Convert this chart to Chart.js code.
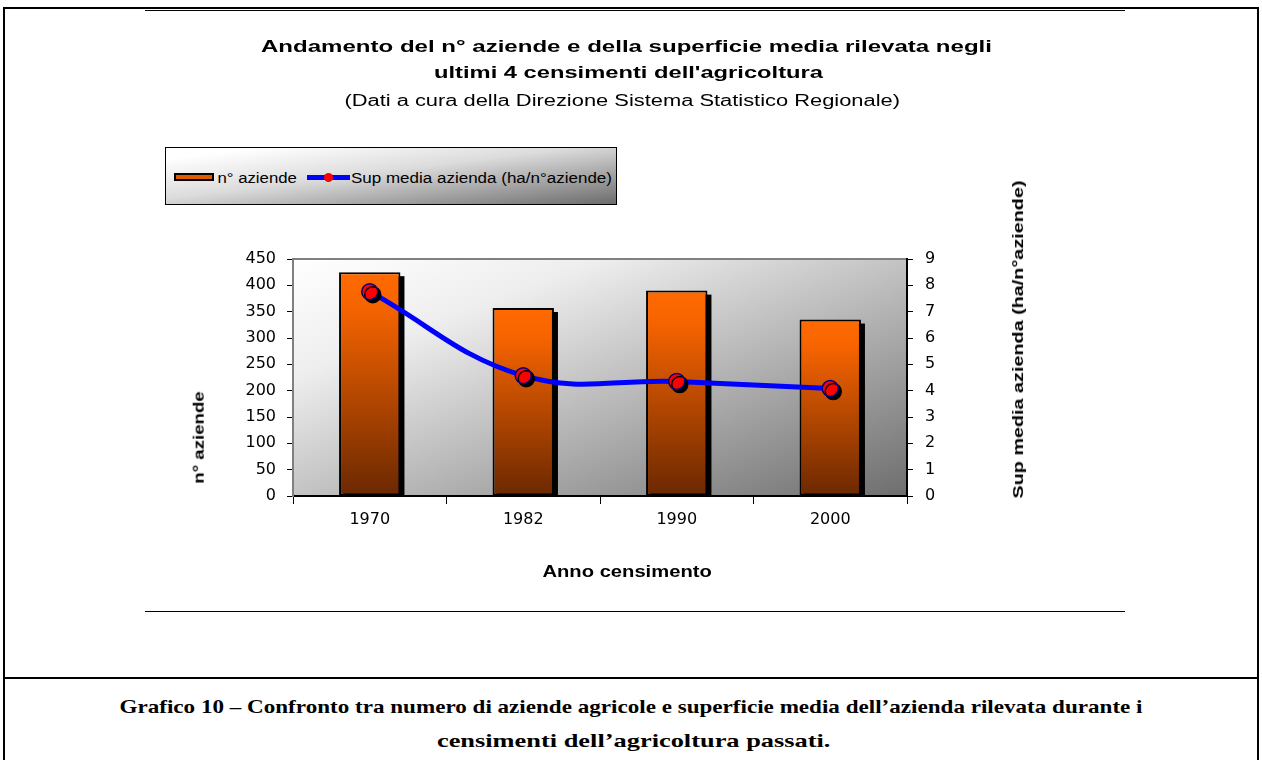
<!DOCTYPE html>
<html>
<head>
<meta charset="utf-8">
<script src="https://cdn.jsdelivr.net/npm/chart.js@4.4.1/dist/chart.umd.min.js"></script>
<style>
  body { margin: 0; width: 1262px; height: 760px; background: #fff; position: relative; overflow: hidden;
         font-family: "Liberation Sans", Arial, sans-serif; color: #000; }
  .abs { position: absolute; }
  .txt { position: absolute; white-space: nowrap; line-height: 1; z-index: 2; transform-origin: center center; }
  #frame { left: 3px; top: 7px; width: 1256px; height: 800px; border: 2px solid #000; border-bottom: none; box-sizing: border-box; }
  #divider { left: 3px; top: 677px; width: 1256px; height: 2px; background: #000; }
  #lineTop { left: 145px; top: 10px; width: 980px; height: 1px; background: #000; }
  #lineBottom { left: 145px; top: 611px; width: 980px; height: 1px; background: #000; }
  #chartWrap { left: 0; top: 0; width: 1262px; height: 680px; z-index: 1; }
  .title { font-size: 17px; font-weight: bold; }
  .sub { font-size: 16px; }
  .axisTitle { font-size: 15px; font-weight: bold; }
  .legendTxt { font-size: 14px; }
  .caption { font-family: "Liberation Serif", "DejaVu Serif", serif; font-weight: bold; font-size: 19px; }
  #legendBox { left: 165px; top: 147px; width: 452px; height: 58px; box-sizing: border-box; border: 1.5px solid #000;
               background: linear-gradient(to bottom right, #ffffff 10%, #dcdcdc 45%, #6c6c6c 100%); z-index: 2; }
  #swBar { left: 174px; top: 173px; width: 40px; height: 8px; box-sizing: border-box; border: 2px solid #000;
           background: #e05a00; z-index: 3; }
  #swLine { left: 307px; top: 175px; width: 43px; height: 5px; background: #0000ff; z-index: 3; }
  #swDot { left: 324px; top: 173px; width: 9px; height: 9px; border-radius: 50%; background: #ff0000; z-index: 4; }
</style>
</head>
<body>
<div id="frame" class="abs"></div>
<div id="divider" class="abs"></div>
<div id="lineTop" class="abs"></div>
<div id="lineBottom" class="abs"></div>

<div id="t1" class="txt title">Andamento del n° aziende e della superficie media rilevata negli</div>
<div id="t2" class="txt title">ultimi 4 censimenti dell'agricoltura</div>
<div id="t3" class="txt sub">(Dati a cura della Direzione Sistema Statistico Regionale)</div>

<div id="legendBox" class="abs"></div>
<div id="swBar" class="abs"></div>
<div id="swLine" class="abs"></div>
<div id="swDot" class="abs"></div>
<div id="lg1" class="txt legendTxt" style="z-index:3">n° aziende</div>
<div id="lg2" class="txt legendTxt" style="z-index:3">Sup media azienda (ha/n°aziende)</div>

<div id="yTitle" class="txt axisTitle">n° aziende</div>
<div id="y1Title" class="txt axisTitle">Sup media azienda (ha/n°aziende)</div>
<div id="xTitle" class="txt axisTitle" style="font-size:16px">Anno censimento</div>

<div id="c1" class="txt caption">Grafico 10 – Confronto tra numero di aziende agricole e superficie media dell’azienda rilevata durante i</div>
<div id="c2" class="txt caption">censimenti dell’agricoltura passati.</div>

<div id="chartWrap" class="abs"><canvas id="chart" width="1262" height="680"></canvas></div>

<script>
// --- data ---
const anni = ['1970', '1982', '1990', '2000'];
const numAziende = [425, 357, 390, 335];
const supMedia = [7.76, 4.57, 4.35, 4.08];
const leftMax = 450, leftStep = 50;
const rightMax = 9, rightStep = 1;

// place a text element by its centre and stretch it to the width seen in the picture
function place(id, cx, cy, w, rot) {
    const el = document.getElementById(id);
    const ow = el.offsetWidth, oh = el.offsetHeight;
    el.style.left = (cx - ow / 2) + 'px';
    el.style.top = (cy - oh / 2) + 'px';
    el.style.transform = (rot ? 'rotate(' + rot + 'deg) ' : '') + 'scaleX(' + (w / ow) + ')';
}

place('t1', 626, 46, 731);
place('t2', 628, 72, 389);
place('t3', 622, 101, 555);
place('lg1', 257, 178, 79);
place('lg2', 481, 178, 261);
place('yTitle', 198, 437, 92, -90);
place('y1Title', 1017, 339, 318, -90);
place('xTitle', 627, 572, 169);
place('c1', 631, 706, 1023);
place('c2', 633, 740, 393);

const tickFont = { family: 'DejaVu Sans', size: 16 };

// grey gradient behind the plot + grey top edge
const plotBackground = {
    id: 'plotBackground',
    beforeDraw(chart) {
        const { ctx, chartArea: a } = chart;
        const w = a.right - a.left, h = a.bottom - a.top;
        const s = 2 * w * h / (w * w + h * h);
        const g = ctx.createLinearGradient(a.left, a.top, a.left + s * h, a.top + s * w);
        g.addColorStop(0, '#ffffff');
        g.addColorStop(0.25, '#eeeeee');
        g.addColorStop(1, '#6e6e6e');
        ctx.save();
        ctx.fillStyle = g;
        ctx.fillRect(a.left, a.top, w, h);
        ctx.strokeStyle = '#808080';
        ctx.lineWidth = 2;
        ctx.beginPath();
        ctx.moveTo(a.left, a.top);
        ctx.lineTo(a.right, a.top);
        ctx.stroke();
        ctx.restore();
    }
};

// hard black drop shadows: bars get a rectangle behind them, markers use canvas shadow
const dropShadow = {
    id: 'dropShadow',
    beforeDatasetDraw(chart, args) {
        const ds = chart.data.datasets[args.index];
        if (!ds.shadow) return;
        const ctx = chart.ctx;
        ctx.save();
        if (args.meta.type === 'bar') {
            const off = ds.shadow;
            ctx.fillStyle = '#000';
            args.meta.data.forEach(bar => {
                const { x, y, base, width } = bar.getProps(['x', 'y', 'base', 'width'], true);
                ctx.fillRect(x - width / 2 + off, y + off, width, base - y - off);
            });
        } else {
            ctx.shadowColor = '#000';
            ctx.shadowBlur = 0;
            ctx.shadowOffsetX = ds.shadow;
            ctx.shadowOffsetY = ds.shadow;
        }
    },
    afterDatasetDraw(chart, args) {
        const ds = chart.data.datasets[args.index];
        if (ds.shadow) chart.ctx.restore();
    }
};

function barGradient(c) {
    const chart = c.chart;
    if (!chart.chartArea || c.type !== 'data') return '#ff6600';
    const y = chart.scales.y;
    const top = y.getPixelForValue(c.raw);
    const base = y.getPixelForValue(0);
    const g = chart.ctx.createLinearGradient(0, top, 0, base);
    g.addColorStop(0, '#ff6a00');
    g.addColorStop(0.15, '#f76400');
    g.addColorStop(1, '#6b2800');
    return g;
}

new Chart(document.getElementById('chart'), {
    data: {
        labels: anni,
        datasets: [
            {
                type: 'line',
                label: 'Sup media azienda (ha/n°aziende)',
                data: supMedia,
                yAxisID: 'y1',
                showLine: false,
                pointRadius: 8,
                pointBackgroundColor: '#ff0000',
                pointBorderColor: '#000080',
                pointBorderWidth: 1.5,
                shadow: 3,
                order: 0
            },
            {
                type: 'line',
                label: 'Sup media azienda (ha/n°aziende)',
                data: supMedia,
                yAxisID: 'y1',
                borderColor: '#0000ff',
                borderWidth: 5,
                tension: 0.4,
                pointRadius: 0,
                order: 1
            },
            {
                type: 'bar',
                label: 'n° aziende',
                data: numAziende,
                yAxisID: 'y',
                backgroundColor: barGradient,
                borderColor: '#000',
                borderWidth: 2,
                borderSkipped: false,
                barPercentage: 0.4,
                categoryPercentage: 1.0,
                shadow: 4,
                order: 2
            }
        ]
    },
    options: {
        responsive: false,
        animation: false,
        layout: { padding: { left: 185, right: 295, top: 259, bottom: 144 } },
        plugins: {
            legend: { display: false },
            title: { display: false },
            tooltip: { enabled: false }
        },
        scales: {
            x: {
                grid: { offset: true, drawOnChartArea: false, tickLength: 8, color: '#000', lineWidth: 1 },
                border: { color: '#000', width: 2 },
                ticks: { color: '#000', font: tickFont, padding: 6 },
                afterFit: s => { s.height = 40; }
            },
            y: {
                position: 'left',
                min: 0,
                max: leftMax,
                ticks: { stepSize: leftStep, color: '#000', font: tickFont, padding: 11 },
                grid: { drawOnChartArea: false, tickLength: 6, color: '#000' },
                border: { color: '#808080', width: 2 },
                afterFit: s => { s.width = 108; }
            },
            y1: {
                position: 'right',
                min: 0,
                max: rightMax,
                ticks: { stepSize: rightStep, color: '#000', font: tickFont, padding: 12 },
                grid: { drawOnChartArea: false, tickLength: 6, color: '#000' },
                border: { color: '#000', width: 2 },
                afterFit: s => { s.width = 60; }
            }
        }
    },
    plugins: [plotBackground, dropShadow]
});
</script>
</body>
</html>
